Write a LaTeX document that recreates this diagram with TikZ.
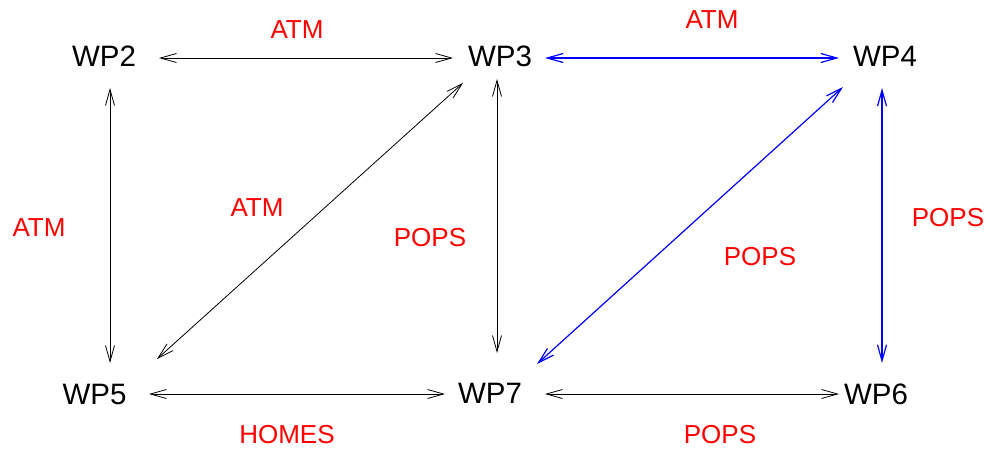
\documentclass[tikz,border=0pt]{standalone}
\usepackage{fontspec}
\setmainfont{Liberation Sans}
\usetikzlibrary{arrows.meta}
\definecolor{lblred}{RGB}{255,0,0}
\definecolor{lnblue}{RGB}{0,0,255}
\begin{document}
\begin{tikzpicture}[x=1pt,y=1pt,
  wp/.style={inner sep=0pt,font=\fontsize{29.5}{32}\selectfont},
  lbl/.style={inner sep=0pt,text=lblred,font=\fontsize{26}{28}\selectfont},
  conn/.style={line width=0.8pt,{Straight Barb[length=16pt,width=9pt]}-{Straight Barb[length=16pt,width=9pt]}},
  blueconn/.style={conn,draw=lnblue,line width=1.2pt}]
\useasboundingbox (0,0) rectangle (987,448);
\node[wp] (WP2) at (104,392) {WP2};
\node[wp] (WP3) at (500,392) {WP3};
\node[wp] (WP4) at (885,392) {WP4};
\node[wp] (WP5) at (94.5,54) {WP5};
\node[wp] (WP7) at (490,54.5) {WP7};
\node[wp] (WP6) at (876,54) {WP6};
\draw[conn] ([shift={(55,-2)}]WP2.center) -- ([shift={(-47,-2)}]WP3.center);
\draw[blueconn] ([shift={(45,-2)}]WP3.center) -- ([shift={(-46,-2)}]WP4.center);
\draw[conn] ([shift={(6,-32)}]WP2.center) -- ([shift={(15.5,31)}]WP5.center);
\draw[conn] ([shift={(62.5,35)}]WP5.center) -- ([shift={(-37,-27)}]WP3.center);
\draw[conn] ([shift={(-3,-23)}]WP3.center) -- ([shift={(7,40.5)}]WP7.center);
\draw[blueconn] ([shift={(47,29.5)}]WP7.center) -- ([shift={(-42,-31)}]WP4.center);
\draw[blueconn] ([shift={(-3,-32)}]WP4.center) -- ([shift={(6,31)}]WP6.center);
\draw[conn] ([shift={(54.5,0)}]WP5.center) -- ([shift={(-45,-0.5)}]WP7.center);
\draw[conn] ([shift={(55,-0.5)}]WP7.center) -- ([shift={(-37,0)}]WP6.center);
\node[lbl] (l1) at (297,418) {ATM};
\node[lbl] (l2) at (712,428) {ATM};
\node[lbl] (l3) at (39,220) {ATM};
\node[lbl] (l4) at (257,240) {ATM};
\node[lbl] (l5) at (430,210) {POPS};
\node[lbl] (l6) at (760,191) {POPS};
\node[lbl] (l7) at (948,230) {POPS};
\node[lbl] (l8) at (287,13) {HOMES};
\node[lbl] (l9) at (720,13) {POPS};
\end{tikzpicture}
\end{document}
